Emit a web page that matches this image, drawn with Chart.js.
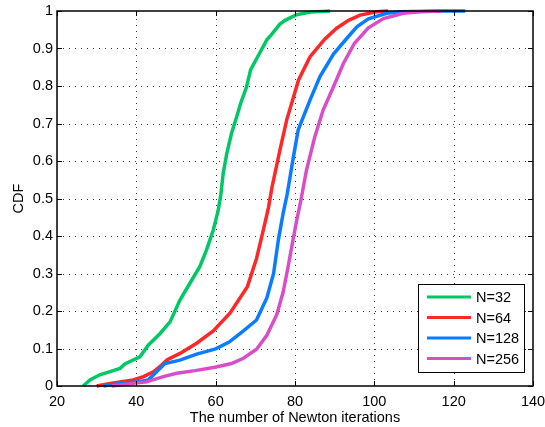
<!DOCTYPE html>
<html>
<head>
<meta charset="utf-8">
<script src="https://cdn.jsdelivr.net/npm/chart.js@4.4.1/dist/chart.umd.min.js"></script>
<style>
  html, body { margin: 0; padding: 0; background: #fff; }
</style>
</head>
<body>
<canvas id="cdfChart" width="545" height="427"></canvas>
<script>
// values (iterations -> CDF)
const seriesLabels = ['N=32', 'N=64', 'N=128', 'N=256'];
const seriesColors = ['#00c864', '#ff2828', '#0a7cff', '#d84ec8'];

const n32X = [26.6, 28.3, 30.8, 35.9, 37.1, 40.9, 43.0, 46.0, 48.5, 51.0, 53.5, 56.0, 57.7, 59.4, 60.6, 61.3, 61.9, 62.8, 64.0, 65.3, 66.3, 67.8, 68.8, 71.2, 72.9, 73.9, 76.2, 77.5, 80.4, 83.8, 88.8];
const n32Y = [0, 0.016, 0.03, 0.047, 0.059, 0.078, 0.109, 0.14, 0.171, 0.229, 0.274, 0.318, 0.363, 0.416, 0.466, 0.51, 0.567, 0.62, 0.674, 0.718, 0.754, 0.798, 0.843, 0.89, 0.923, 0.935, 0.965, 0.975, 0.99, 0.997, 1.0];

const n64X = [30.0, 33.4, 36.7, 39.2, 41.8, 44.3, 46.3, 47.8, 51.0, 55.2, 59.4, 63.6, 68.0, 70.3, 72.0, 73.3, 74.2, 76.2, 77.9, 80.9, 83.8, 87.5, 90.5, 93.5, 96.4, 100.6, 103.5];
const n64Y = [0, 0.007, 0.012, 0.016, 0.025, 0.038, 0.055, 0.07, 0.087, 0.114, 0.147, 0.194, 0.265, 0.34, 0.415, 0.475, 0.53, 0.629, 0.709, 0.816, 0.878, 0.925, 0.954, 0.975, 0.989, 0.998, 1.0];

const n128X = [31.7, 35.9, 40.1, 43.0, 45.1, 47.2, 51.0, 55.2, 60.0, 63.4, 67.0, 70.3, 72.9, 74.6, 75.8, 77.0, 78.0, 79.6, 80.8, 83.8, 86.3, 89.7, 93.3, 95.6, 98.5, 103.1, 106.5, 117.4, 122.9];
const n128Y = [0, 0.007, 0.011, 0.016, 0.038, 0.06, 0.069, 0.085, 0.099, 0.117, 0.147, 0.176, 0.235, 0.3, 0.389, 0.46, 0.51, 0.611, 0.683, 0.763, 0.825, 0.885, 0.93, 0.958, 0.979, 0.994, 0.998, 1.0, 1.0];

const n256X = [33.8, 39.2, 42.6, 46.8, 50.2, 54.8, 59.8, 64.0, 67.0, 70.3, 72.9, 75.4, 77.0, 78.3, 79.5, 80.4, 81.5, 82.9, 85.0, 87.1, 89.7, 92.2, 95.0, 98.5, 102.3, 107.3, 111.5, 117.0];
const n256Y = [0, 0.007, 0.011, 0.025, 0.034, 0.041, 0.05, 0.06, 0.074, 0.098, 0.135, 0.19, 0.25, 0.32, 0.39, 0.44, 0.496, 0.576, 0.665, 0.736, 0.798, 0.86, 0.914, 0.955, 0.98, 0.994, 0.998, 1.0];

const xTicks = [20, 40, 60, 80, 100, 120, 140];
const yTicks = [0, 0.1, 0.2, 0.3, 0.4, 0.5, 0.6, 0.7, 0.8, 0.9, 1];

const allX = [n32X, n64X, n128X, n256X];
const allY = [n32Y, n64Y, n128Y, n256Y];

const FONT = 'Liberation Sans, Arial, Helvetica, sans-serif';
const FSIZE = 14.5;

function toPoints(xs, ys) {
  return xs.map((x, i) => ({ x: x, y: ys[i] }));
}

// dotted grid, matlab style
const dottedGrid = {
  id: 'dottedGrid',
  beforeDatasetsDraw(chart) {
    const ctx = chart.ctx, a = chart.chartArea;
    const xs = chart.scales.x, ys = chart.scales.y;
    ctx.save();
    ctx.strokeStyle = 'rgba(0,0,0,0.8)';
    ctx.lineWidth = 1;
    ctx.setLineDash([1, 5]);
    ctx.beginPath();
    xTicks.slice(1, -1).forEach(v => {
      const px = Math.round(xs.getPixelForValue(v)) + 0.5;
      ctx.moveTo(px, a.bottom); ctx.lineTo(px, a.top);
    });
    yTicks.slice(1, -1).forEach(v => {
      const py = Math.round(ys.getPixelForValue(v)) + 0.5;
      ctx.moveTo(a.left, py); ctx.lineTo(a.right, py);
    });
    ctx.stroke();
    ctx.restore();
  }
};

// box with inside ticks on all four sides
const axesBox = {
  id: 'axesBox',
  afterDraw(chart) {
    const ctx = chart.ctx, a = chart.chartArea;
    const xs = chart.scales.x, ys = chart.scales.y;
    const tl = 5;
    ctx.save();
    ctx.strokeStyle = '#000';
    ctx.lineWidth = 1;
    ctx.beginPath();
    xTicks.forEach(v => {
      const px = Math.round(xs.getPixelForValue(v)) + 0.5;
      ctx.moveTo(px, a.bottom); ctx.lineTo(px, a.bottom - tl);
      ctx.moveTo(px, a.top); ctx.lineTo(px, a.top + tl);
    });
    yTicks.forEach(v => {
      const py = Math.round(ys.getPixelForValue(v)) + 0.5;
      ctx.moveTo(a.left, py); ctx.lineTo(a.left + tl, py);
      ctx.moveTo(a.right, py); ctx.lineTo(a.right - tl, py);
    });
    ctx.stroke();
    ctx.lineWidth = 1.5;
    ctx.strokeRect(a.left, a.top, a.right - a.left, a.bottom - a.top);
    ctx.restore();
  }
};

// legend box in the lower right corner of the axes
const legendBox = {
  id: 'legendBox',
  afterDraw(chart) {
    const ctx = chart.ctx, a = chart.chartArea;
    const w = 106, h = 88;
    const x0 = a.right - 9 - w, y0 = a.bottom - 14 - h;
    ctx.save();
    ctx.fillStyle = '#fff';
    ctx.fillRect(x0, y0, w, h);
    ctx.strokeStyle = '#000';
    ctx.lineWidth = 1;
    ctx.strokeRect(x0 + 0.5, y0 + 0.5, w, h);
    ctx.font = FSIZE + 'px ' + FONT;
    ctx.textBaseline = 'middle';
    ctx.fillStyle = '#000';
    chart.data.datasets.forEach((ds, i) => {
      const y = y0 + 13 + i * 20.5;
      ctx.strokeStyle = ds.borderColor;
      ctx.lineWidth = 3;
      ctx.beginPath();
      ctx.moveTo(x0 + 9, y);
      ctx.lineTo(x0 + 53, y);
      ctx.stroke();
      ctx.fillText(ds.label, x0 + 58, y + 1);
    });
    ctx.restore();
  }
};

const datasets = seriesLabels.map((label, i) => ({
  label: label,
  data: toPoints(allX[i], allY[i]),
  borderColor: seriesColors[i],
  backgroundColor: seriesColors[i],
  borderWidth: 3.5,
  pointRadius: 0,
  tension: 0,
  fill: false,
  clip: 6,
  order: seriesLabels.length - 1 - i
}));

new Chart(document.getElementById('cdfChart'), {
  type: 'line',
  data: { datasets: datasets },
  options: {
    responsive: false,
    animation: false,
    layout: { padding: { top: 11, right: 12, bottom: 0, left: 0 } },
    plugins: {
      legend: { display: false },
      tooltip: { enabled: false }
    },
    scales: {
      x: {
        type: 'linear',
        min: 20,
        max: 140,
        afterFit: s => { s.height = 41; s.paddingLeft = 0; s.paddingRight = 0; },
        afterBuildTicks: s => { s.ticks = xTicks.map(v => ({ value: v })); },
        ticks: { color: '#000', font: { family: FONT, size: FSIZE }, padding: 7, maxRotation: 0 },
        grid: { display: false, drawTicks: false },
        border: { display: false },
        title: {
          display: true,
          text: 'The number of Newton iterations',
          color: '#000',
          font: { family: FONT, size: FSIZE },
          padding: { top: 0, bottom: 0 }
        }
      },
      y: {
        type: 'linear',
        min: 0,
        max: 1,
        afterFit: s => { s.width = 57; s.paddingTop = 0; s.paddingBottom = 0; },
        afterBuildTicks: s => { s.ticks = yTicks.map(v => ({ value: v })); },
        ticks: {
          color: '#000',
          font: { family: FONT, size: FSIZE },
          padding: 4,
          callback: v => String(+v.toFixed(1))
        },
        grid: { display: false, drawTicks: false },
        border: { display: false },
        title: {
          display: true,
          text: 'CDF',
          color: '#000',
          font: { family: FONT, size: FSIZE },
          padding: { top: 10, bottom: 0 }
        }
      }
    }
  },
  plugins: [dottedGrid, axesBox, legendBox]
});
</script>
</body>
</html>
